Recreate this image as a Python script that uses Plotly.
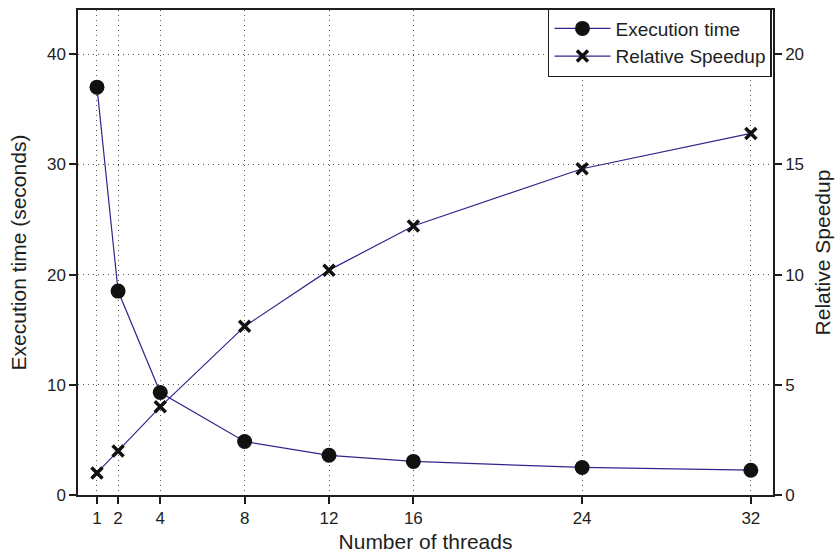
import plotly.graph_objects as go

# Thread-scaling benchmark: wall time and speedup versus thread count
threads = [1, 2, 4, 8, 12, 16, 24, 32]
exec_time = [37.0, 18.5, 9.3, 4.85, 3.6, 3.05, 2.5, 2.25]
speedup = [1.0, 2.0, 4.0, 7.65, 10.2, 12.2, 14.8, 16.4]

x_ticks = [1, 2, 4, 8, 12, 16, 24, 32]
left_ticks = [0, 10, 20, 30, 40]
right_ticks = [0, 5, 10, 15, 20]

line_color = "#33248c"
ink = "#1e1e1e"
font_family = "Liberation Sans, Arial, sans-serif"

fig = go.Figure()
fig.add_trace(go.Scatter(
    x=threads, y=exec_time, name="Execution time", mode="lines+markers",
    line=dict(color=line_color, width=1.2),
    marker=dict(symbol="circle", size=15, color="#111111"),
    yaxis="y",
))
fig.add_trace(go.Scatter(
    x=threads, y=speedup, name="Relative Speedup", mode="lines+markers",
    line=dict(color=line_color, width=1.2),
    marker=dict(symbol="x-thin", size=11, color="#111111",
                line=dict(color="#111111", width=3.5)),
    yaxis="y2",
))

axis_common = dict(
    showline=True, linecolor=ink, linewidth=1.5,
    ticks="outside", ticklen=7, tickcolor=ink, tickwidth=1.5,
    tickfont=dict(size=17, color=ink, family=font_family),
    zeroline=False, automargin=False,
)

fig.update_layout(
    width=837, height=555,
    margin=dict(l=78, r=64, t=9, b=60),
    paper_bgcolor="white", plot_bgcolor="white",
    font=dict(family=font_family, color=ink),
    showlegend=True,
    legend=dict(
        x=0.9985, y=1.002, xanchor="right", yanchor="top",
        bordercolor=ink, borderwidth=1.5, bgcolor="white",
        font=dict(size=19, color=ink, family=font_family),
        itemwidth=56, tracegroupgap=4,
    ),
    xaxis=dict(
        **axis_common,
        range=[0.1, 33.05], tickvals=x_ticks, ticktext=[str(t) for t in x_ticks],
        mirror=True,
        showgrid=True, gridcolor="#555555", griddash="1px,4px", gridwidth=1.2,
        title=dict(text="Number of threads", font=dict(size=21, family=font_family), standoff=7),
    ),
    yaxis=dict(
        **axis_common,
        range=[0, 44], tickvals=left_ticks,
        showgrid=True, gridcolor="#555555", griddash="1px,4px", gridwidth=1.2,
        title=dict(text="Execution time (seconds)", font=dict(size=21, family=font_family), standoff=15),
    ),
    yaxis2=dict(
        **axis_common,
        overlaying="y", side="right",
        range=[0, 22], tickvals=right_ticks, showgrid=False,
        title=dict(text="Relative Speedup", font=dict(size=21, family=font_family), standoff=12),
    ),
)

fig.write_html("out.html")
